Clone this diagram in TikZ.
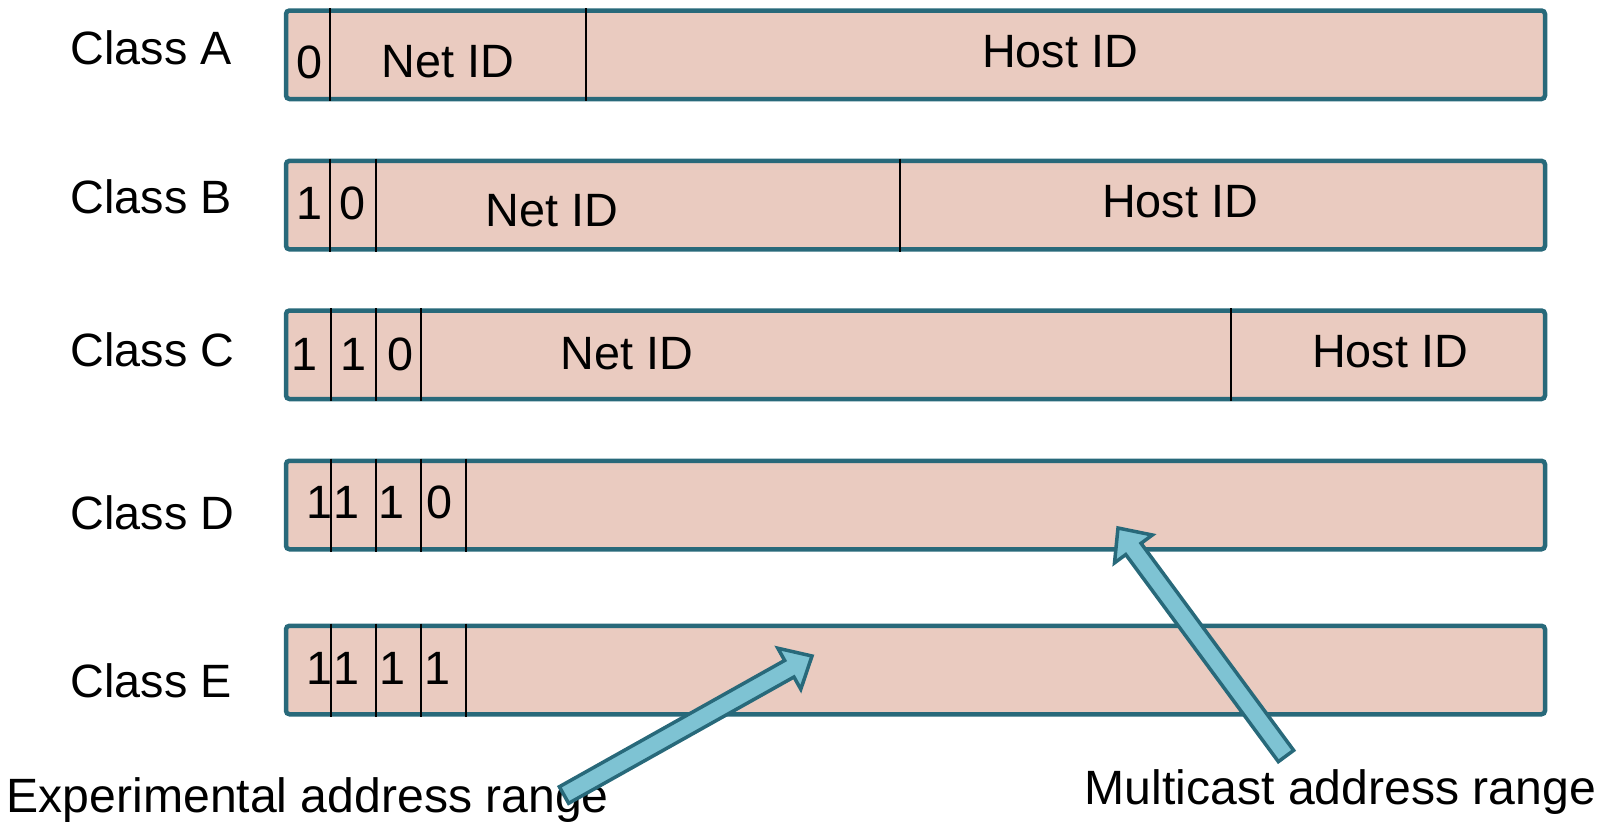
\documentclass[tikz,border=0pt]{standalone}
\usepackage{fontspec}
\setmainfont{Liberation Sans}
\usetikzlibrary{calc,positioning}

\definecolor{boxfill}{RGB}{234,203,192}
\definecolor{tealline}{RGB}{40,105,122}
\definecolor{arrowfill}{RGB}{126,195,211}

\begin{document}
\begin{tikzpicture}[font=\fontsize{13.3}{16}\selectfont,
  field/.style={draw=tealline,line width=0.45mm,fill=boxfill,rounded corners=1pt,minimum width=12.59cm,minimum height=0.885cm,inner sep=0pt},
  sep/.style={draw=black,line width=0.7pt},
  txt/.style={inner sep=0pt,anchor=base},
  cls/.style={inner sep=0pt,anchor=base west},
  big/.style={cls,font=\fontsize{13.7}{16}\selectfont},
  fat/.style={draw=tealline,line width=0.35mm,fill=arrowfill,line join=miter}]
  \useasboundingbox (0,0) rectangle (16.1,-8.22);
  % ---------- class A
  \node[cls] (clsA) at (0.70,-0.64) {Class A};
  \node[field] (boxA) at (9.155,-0.5475) {};
  \foreach \x in {3.30,5.86} \draw[sep] (\x,0 |- boxA.north) -- (\x,0 |- boxA.south);
  \node[txt] (a0) at (3.095,-0.78) {0};
  \node[txt] (anet) at (4.48,-0.77) {Net ID};
  \node[txt] (ahost) at (10.60,-0.67) {Host ID};
  % ---------- class B
  \node[cls] (clsB) at (0.70,-2.13) {Class B};
  \node[field] (boxB) at (9.155,-2.051) {};
  \foreach \x in {3.30,3.76,9.00} \draw[sep] (\x,0 |- boxB.north) -- (\x,0 |- boxB.south);
  \node[txt] (b1) at (3.09,-2.19) {1};
  \node[txt] (b0) at (3.52,-2.19) {0};
  \node[txt] (bnet) at (5.52,-2.26) {Net ID};
  \node[txt] (bhost) at (11.80,-2.17) {Host ID};
  % ---------- class C
  \node[cls] (clsC) at (0.70,-3.66) {Class C};
  \node[field] (boxC) at (9.155,-3.5475) {};
  \foreach \x in {3.31,3.76,4.21,12.31} \draw[sep] (\x,0 |- boxC.north) -- (\x,0 |- boxC.south);
  \node[txt] (c1) at (3.04,-3.70) {1};
  \node[txt] (c2) at (3.53,-3.70) {1};
  \node[txt] (c0) at (4.00,-3.70) {0};
  \node[txt] (cnet) at (6.27,-3.69) {Net ID};
  \node[txt] (chost) at (13.90,-3.67) {Host ID};
  % ---------- class D
  \node[cls] (clsD) at (0.70,-5.29) {Class D};
  \node[field] (boxD) at (9.155,-5.05) {};
  \foreach \x in {3.31,3.76,4.21,4.66} \draw[sep] (\x,0 |- boxD.north) -- (\x,0 |- boxD.south);
  \node[txt] (d1) at (3.19,-5.18) {1};
  \node[txt] (d2) at (3.46,-5.18) {1};
  \node[txt] (d3) at (3.91,-5.18) {1};
  \node[txt] (d0) at (4.39,-5.18) {0};
  % ---------- class E
  \node[cls] (clsE) at (0.70,-6.97) {Class E};
  \node[field] (boxE) at (9.155,-6.70) {};
  \foreach \x in {3.31,3.76,4.21,4.66} \draw[sep] (\x,0 |- boxE.north) -- (\x,0 |- boxE.south);
  \node[txt] (e1) at (3.19,-6.84) {1};
  \node[txt] (e2) at (3.46,-6.84) {1};
  \node[txt] (e3) at (3.92,-6.84) {1};
  \node[txt] (e4) at (4.37,-6.84) {1};
  % ---------- ranges
  \node[big] (exp) at (0.06,-8.12) {Experimental address range};
  \node[big] (mc) at (10.84,-8.04) {Multicast address range};
  \coordinate (expTail) at (5.64,-7.95);
  \coordinate (expTip) at (8.12,-6.56);
  \coordinate (mcTail) at (12.86,-7.56);
  \coordinate (mcTip) at (11.18,-5.28);
  \foreach \a in {exp,mc}{
    \coordinate (\a Neck) at ($(\a Tip)!2.6mm!(\a Tail)$);
    \draw[fat] ($(\a Tail)!0.95mm!90:(\a Tip)$) -- ($(\a Neck)!0.95mm!90:(\a Tip)$)
      -- ($(\a Neck)!2.35mm!90:(\a Tip)$) -- (\a Tip) -- ($(\a Neck)!2.35mm!-90:(\a Tip)$)
      -- ($(\a Neck)!0.95mm!-90:(\a Tip)$) -- ($(\a Tail)!0.95mm!-90:(\a Tip)$) -- cycle;
  }
\end{tikzpicture}
\end{document}
